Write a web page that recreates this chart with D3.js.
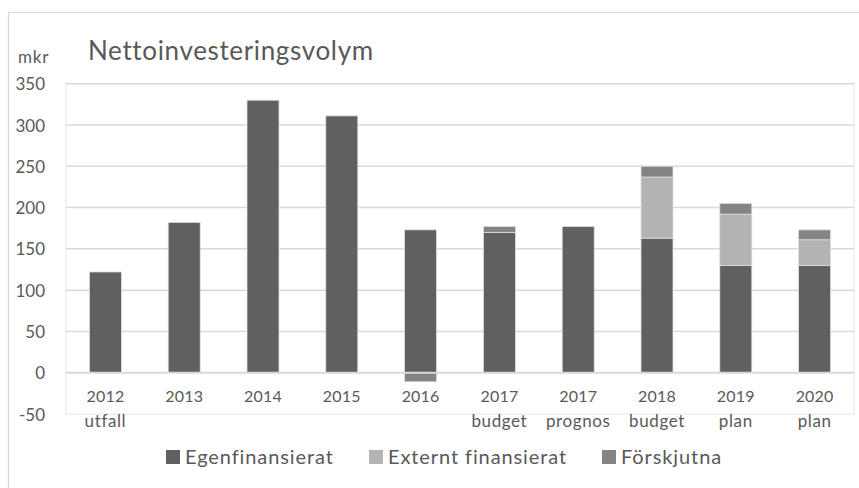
<!DOCTYPE html>
<html>
<head>
<meta charset="utf-8">
<script src="https://cdn.jsdelivr.net/npm/d3@7"></script>
<style>
  html, body { margin: 0; padding: 0; background: #fff; }
  svg { display: block; font-family: Lato, "Liberation Sans", sans-serif; }
</style>
</head>
<body>
<svg id="chart" width="859" height="488"></svg>
<script>
// Nettoinvesteringsvolym, mkr per år
const years = ["2012", "2013", "2014", "2015", "2016", "2017", "2017", "2018", "2019", "2020"];
const subLabels = ["utfall", "", "", "", "", "budget", "prognos", "budget", "plan", "plan"];
const egenfinansierat = [122, 182, 330, 311, 173, 170, 177, 163, 130, 130];
const externtFinansierat = [0, 0, 0, 0, 0, 0, 0, 74, 62, 31];
const forskjutna = [0, 0, 0, 0, -11, 7, 0, 13, 13, 12];
const seriesNames = ["Egenfinansierat", "Externt finansierat", "Förskjutna"];
const yTicks = [-50, 0, 50, 100, 150, 200, 250, 300, 350];

const colors = ["#606060", "#b3b3b3", "#848484"];
const textColor = "#595959";

const svg = d3.select("#chart");
const W = 859, H = 488;
const plot = { left: 66, right: 854, top: 83.7, bottom: 414 };

// outer chart frame
svg.append("rect")
  .attr("x", 8.5).attr("y", 12.5)
  .attr("width", W).attr("height", H)
  .attr("fill", "#fff").attr("stroke", "#d9d9d9").attr("stroke-width", 1.3);

const rows = years.map((y, i) => ({
  key: i,
  "Egenfinansierat": egenfinansierat[i],
  "Externt finansierat": externtFinansierat[i],
  "Förskjutna": forskjutna[i]
}));

const x = d3.scaleBand()
  .domain(rows.map(r => r.key))
  .range([plot.left, plot.right])
  .paddingInner(0.594).paddingOuter(0.297);

const y = d3.scaleLinear()
  .domain([-50, 350])
  .range([plot.bottom, plot.top]);

// plot area frame
svg.append("rect")
  .attr("x", plot.left).attr("y", plot.top)
  .attr("width", plot.right - plot.left).attr("height", plot.bottom - plot.top)
  .attr("fill", "none").attr("stroke", "#ececec").attr("stroke-width", 1.3);

// gridlines
svg.append("g")
  .selectAll("line")
  .data(yTicks.filter(t => t !== 0 && t !== -50))
  .join("line")
  .attr("x1", plot.left).attr("x2", plot.right)
  .attr("y1", d => y(d)).attr("y2", d => y(d))
  .attr("stroke", "#d9d9d9").attr("stroke-width", 1.5);

// stacked bars (negative values stack below zero)
const stack = d3.stack().keys(seriesNames).offset(d3.stackOffsetDiverging);
const layers = stack(rows);

svg.append("g")
  .selectAll("g")
  .data(layers)
  .join("g")
  .attr("fill", (d, i) => colors[i])
  .selectAll("rect")
  .data(d => d.filter(s => s[1] !== s[0]))
  .join("rect")
  .attr("x", d => x(d.data.key))
  .attr("width", x.bandwidth())
  .attr("y", d => y(Math.max(d[0], d[1])))
  .attr("height", d => Math.abs(y(d[0]) - y(d[1])))
  .attr("stroke", "#dedede").attr("stroke-width", 0.8);

// zero line on top of bars
svg.append("line")
  .attr("x1", plot.left).attr("x2", plot.right)
  .attr("y1", y(0)).attr("y2", y(0))
  .attr("stroke", "#d9d9d9").attr("stroke-width", 2);

// y axis labels (plain hyphen for negatives)
const yAxis = d3.axisLeft(y).tickValues(yTicks).tickFormat(d => String(d)).tickSize(0).tickPadding(0);
const yg = svg.append("g").attr("transform", "translate(45,0)").call(yAxis);
yg.select(".domain").remove();
yg.selectAll("text")
  .attr("fill", textColor)
  .style("font-family", "Lato")
  .style("font-size", "17px")
  .attr("dy", "0.36em");

// x axis labels
const xg = svg.append("g");
xg.selectAll("text.yr")
  .data(rows)
  .join("text")
  .attr("class", "yr")
  .attr("x", d => x(d.key) + x.bandwidth() / 2)
  .attr("y", 402)
  .attr("text-anchor", "middle")
  .attr("fill", textColor)
  .style("font-size", "16px")
  .style("letter-spacing", "0.2px")
  .text((d, i) => years[i]);
xg.selectAll("text.sub")
  .data(rows)
  .join("text")
  .attr("class", "sub")
  .attr("x", d => x(d.key) + x.bandwidth() / 2)
  .attr("y", 427)
  .attr("text-anchor", "middle")
  .attr("fill", textColor)
  .style("font-size", "17px")
  .style("letter-spacing", "0.6px")
  .text((d, i) => subLabels[i]);

// unit and title
svg.append("text")
  .attr("x", 18).attr("y", 63)
  .attr("fill", textColor)
  .style("font-size", "17px")
  .style("letter-spacing", "0.8px")
  .text("mkr");
svg.append("text")
  .attr("x", 88).attr("y", 60)
  .attr("fill", textColor)
  .style("font-size", "26px")
  .style("letter-spacing", "0.65px")
  .text("Nettoinvesteringsvolym");

// legend
const legendX = [166, 369, 602];
const lg = svg.append("g");
seriesNames.forEach((name, i) => {
  lg.append("rect")
    .attr("x", legendX[i]).attr("y", 450)
    .attr("width", 14).attr("height", 14)
    .attr("fill", colors[i]);
  lg.append("text")
    .attr("x", legendX[i] + 19).attr("y", 464)
    .attr("fill", textColor)
    .style("font-size", "20px")
    .style("letter-spacing", "0.9px")
    .text(name);
});
</script>
</body>
</html>
